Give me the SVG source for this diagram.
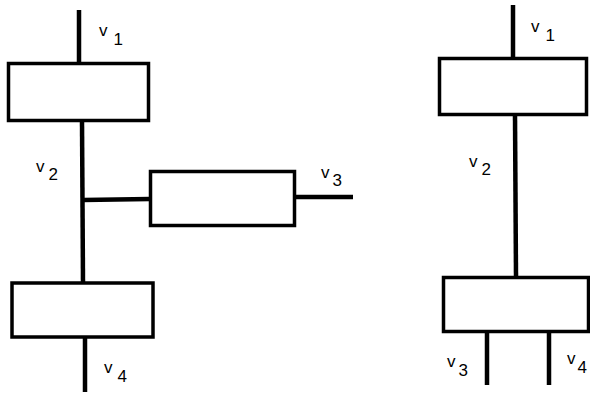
<svg xmlns="http://www.w3.org/2000/svg" width="590" height="394" viewBox="0 0 590 394">
<style>
.box{fill:#fff;stroke:#000;stroke-width:3.5}
.w{stroke:#000;stroke-width:4.5;fill:none;stroke-linecap:butt}
.lb{font-family:"Liberation Sans",Arial,sans-serif;font-size:17px;fill:#000}
.sb{font-size:17px}
</style>
<rect width="590" height="394" fill="#fff"/>
<g id="connectors">
<line class="w" x1="79" y1="10" x2="79" y2="63"/>
<line class="w" x1="82" y1="121" x2="83" y2="283"/>
<line class="w" x1="83" y1="200" x2="150" y2="199"/>
<line class="w" x1="295" y1="197" x2="353" y2="197"/>
<line class="w" x1="85" y1="337" x2="85" y2="392"/>
<line class="w" x1="513" y1="5" x2="513" y2="58"/>
<line class="w" x1="515" y1="115" x2="516" y2="277"/>
<line class="w" x1="487" y1="332" x2="487" y2="385"/>
<line class="w" x1="549" y1="332" x2="549" y2="385"/>
</g>
<g id="L-box1"><rect class="box" x="8.5" y="63.5" width="140" height="57"/></g>
<g id="L-box2"><rect class="box" x="150.5" y="171.5" width="144" height="54"/></g>
<g id="L-box3"><rect class="box" x="12" y="283" width="141" height="54"/></g>
<g id="R-box1"><rect class="box" x="439.5" y="58.5" width="147" height="56"/></g>
<g id="R-box2"><rect class="box" x="443.5" y="277.5" width="145" height="54"/></g>
<g id="labels">
<text class="lb" x="99" y="36">v<tspan class="sb" dx="6" dy="9">1</tspan></text>
<text class="lb" x="36" y="172">v<tspan class="sb" dx="4" dy="8">2</tspan></text>
<text class="lb" x="321" y="178">v<tspan class="sb" dx="3" dy="8">3</tspan></text>
<text class="lb" x="104" y="373">v<tspan class="sb" dx="5" dy="9">4</tspan></text>
<text class="lb" x="531" y="32">v<tspan class="sb" dx="6" dy="9">1</tspan></text>
<text class="lb" x="469" y="167">v<tspan class="sb" dx="4" dy="8">2</tspan></text>
<text class="lb" x="447" y="367">v<tspan class="sb" dx="3" dy="9">3</tspan></text>
<text class="lb" x="567" y="364">v<tspan class="sb" dx="2" dy="9">4</tspan></text>
</g>
</svg>
